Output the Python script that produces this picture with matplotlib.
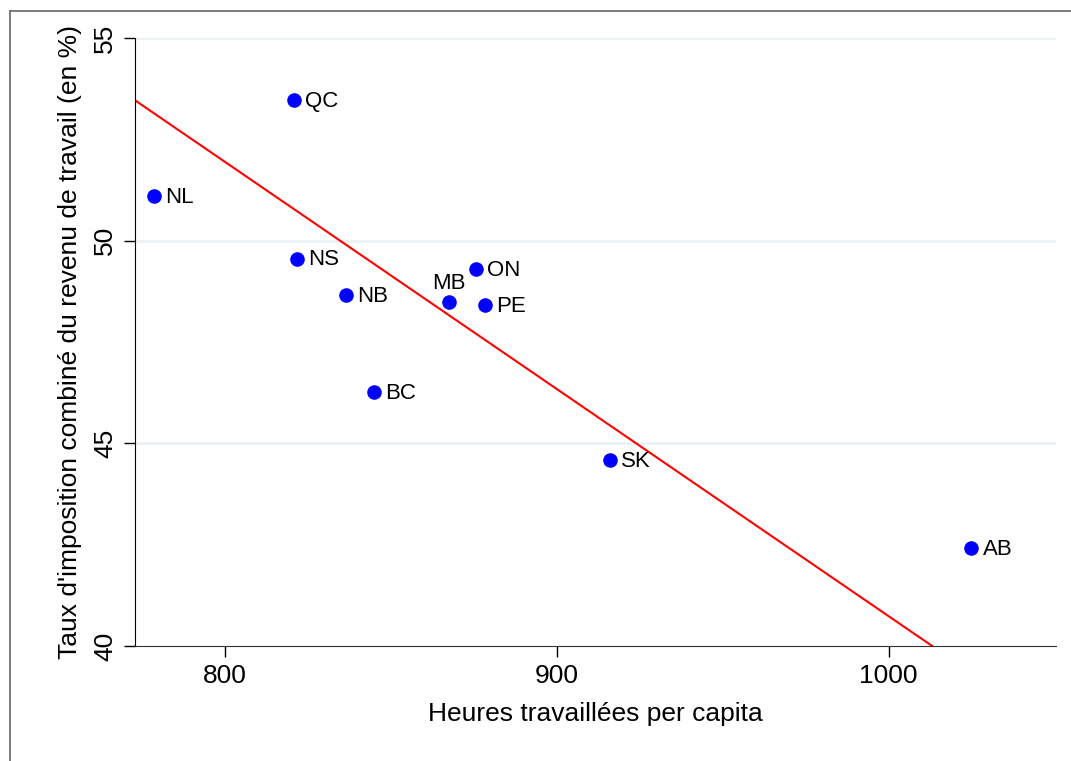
import numpy as np
import matplotlib.pyplot as plt
from matplotlib.lines import Line2D

# provinces et valeurs
provinces = ["QC", "NL", "NS", "NB", "MB", "ON", "PE", "BC", "SK", "AB"]
heures = [820.8, 778.5, 821.8, 836.3, 867.4, 875.5, 878.2, 845.0, 916.0, 1025.0]
taux = [53.47, 51.11, 49.56, 48.67, 48.50, 49.31, 48.42, 46.26, 44.58, 42.41]

# droite ajustee
pente = -0.05601
ordonnee = 96.75

plt.rcParams["font.family"] = ["Liberation Sans", "DejaVu Sans"]

fig = plt.figure(figsize=(10.71, 7.61), dpi=100)
ax = fig.add_axes([0.126, 0.151, 0.860, 0.799])

# cadre gris autour (coupe sur les bords)
fig.add_artist(Line2D([10 / 1071, 10 / 1071], [0, 1 - 11 / 761], color="#666666", lw=1.2))
fig.add_artist(Line2D([10 / 1071, 1], [1 - 11 / 761, 1 - 11 / 761], color="#666666", lw=1.2))

# grille horizontale
for g in [45, 50, 55]:
    ax.axhline(g, color="#eaf2f3", lw=2, zorder=0)

# droite de regression, coupee a y = 40
x_fin = (40 - ordonnee) / pente
xs = np.array([772.8, x_fin])
ax.plot(xs, pente * xs + ordonnee, color="red", lw=1.5, zorder=2)

ax.scatter(heures, taux, s=110, color="blue", zorder=3, linewidths=0)

for p, x, y in zip(provinces, heures, taux):
    if p == "MB":
        ax.annotate(p, (x, y), xytext=(0, 13), textcoords="offset points",
                    ha="center", va="center", fontsize=16)
    else:
        ax.annotate(p, (x, y), xytext=(8, -1), textcoords="offset points",
                    ha="left", va="center", fontsize=16)

ax.set_xlim(772.8, 1050.5)
ax.set_ylim(40, 55)
ax.set_xticks([800, 900, 1000])
ax.set_yticks([40, 45, 50, 55])
ax.tick_params(axis="both", labelsize=19, length=8, width=1, direction="out", pad=5)
for lab in ax.get_yticklabels():
    lab.set_rotation(90)
    lab.set_va("center")

ax.spines["top"].set_visible(False)
ax.spines["right"].set_visible(False)
ax.spines["left"].set_color("black")
ax.spines["bottom"].set_color("#333333")

ax.set_xlabel("Heures travaillées per capita", fontsize=19, labelpad=10)
ax.set_ylabel("Taux d'imposition combiné du revenu de travail (en %)", fontsize=19, labelpad=8)

fig.savefig("out.png", dpi=100)
